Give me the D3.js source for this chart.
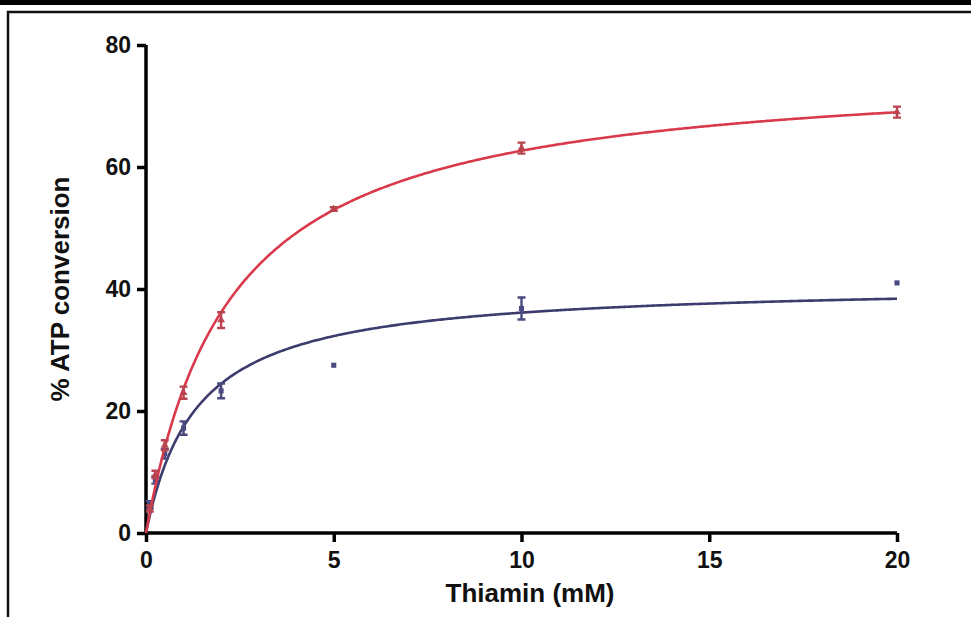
<!DOCTYPE html>
<html>
<head>
<meta charset="utf-8">
<script src="https://cdn.jsdelivr.net/npm/d3@7"></script>
<style>
  body { margin: 0; background: #fff; }
  svg text { font-family: "Liberation Sans", Arial, sans-serif; font-weight: bold; fill: #111; }
</style>
</head>
<body>
<svg width="971" height="617"></svg>
<script>
// thiamin concentration (mM)
var conc = [0, 0.1, 0.25, 0.5, 1, 2, 5, 10, 20];
// red series: mean and SEM (% ATP conversion)
var redMean = [0, 4.0, 9.6, 14.4, 23.0, 34.9, 53.1, 63.1, 69.0];
var redErr  = [0, 0.5, 0.6, 0.8, 1.0, 1.3, 0.3, 0.9, 0.9];
// blue series
var blueMean = [0, 4.6, 8.7, 13.0, 17.2, 23.3, 27.5, 36.8, 41.0];
var blueErr  = [0, 0.6, 0.6, 0.8, 1.1, 1.2, 0, 1.8, 0];
// fitted hyperbola parameters [Vmax, Km]
var redFit = [76.7, 2.24];
var blueFit = [41.0, 1.35];
var xTicks = [0, 5, 10, 15, 20];
var yTicks = [0, 20, 40, 60, 80];

var svg = d3.select("svg");

// page frame
svg.append("rect").attr("x", 0).attr("y", 0).attr("width", 971).attr("height", 5).attr("fill", "#000");
svg.append("path").attr("d", "M8,617 V12 H971").attr("fill", "none").attr("stroke", "#111").attr("stroke-width", 2.5);

var x = d3.scaleLinear().domain([0, 20]).range([146, 897]);
var y = d3.scaleLinear().domain([0, 80]).range([533, 45]);

var xAxis = svg.append("g")
    .attr("transform", "translate(0,533)")
    .call(d3.axisBottom(x).tickValues(xTicks).tickSize(9).tickPadding(10));
var yAxis = svg.append("g")
    .attr("transform", "translate(146,0)")
    .call(d3.axisLeft(y).tickValues(yTicks).tickSize(9).tickPadding(6));

[xAxis, yAxis].forEach(function(a){
  a.attr("font-size", 23).attr("font-family", "Liberation Sans, Arial, sans-serif").attr("font-weight", "bold");
  a.select(".domain").attr("stroke", "#000").attr("stroke-width", 3.5);
  a.selectAll(".tick line").attr("stroke", "#000").attr("stroke-width", 3.5);
  a.selectAll(".tick text").style("font-size", "23px").attr("fill", "#111");
});
// plain domain lines without outer ticks
xAxis.select(".domain").attr("d", "M146,0H897");
yAxis.select(".domain").attr("d", "M0,533V45");

svg.append("text").attr("x", 530).attr("y", 602).attr("text-anchor", "middle")
  .style("font-size", "26px").text("Thiamin (mM)");
svg.append("text").attr("transform", "translate(69,289) rotate(-90)").attr("text-anchor", "middle")
  .style("font-size", "26px").text("% ATP conversion");

function drawSeries(mean, err, fit, lineColor, markColor, shape) {
  var xs = d3.range(0, 20.001, 0.05);
  var line = d3.line()
      .x(function(d){ return x(d); })
      .y(function(d){ return y(fit[0] * d / (fit[1] + d)); });
  svg.append("path").datum(xs).attr("d", line)
    .attr("fill", "none").attr("stroke", lineColor).attr("stroke-width", 2.6);

  var g = svg.append("g");
  conc.forEach(function(c, i){
    if (i === 0) return;
    var cx = x(c), cy = y(mean[i]);
    if (err[i] > 0) {
      var t = y(mean[i] + err[i]), b = y(mean[i] - err[i]);
      g.append("path")
        .attr("d", "M" + cx + "," + t + "V" + b + "M" + (cx - 4) + "," + t + "H" + (cx + 4) + "M" + (cx - 4) + "," + b + "H" + (cx + 4))
        .attr("stroke", markColor).attr("stroke-width", 2.4).attr("fill", "none");
    }
    g.append("path")
      .attr("transform", "translate(" + cx + "," + cy + ")")
      .attr("d", d3.symbol().type(shape).size(26)())
      .attr("fill", markColor);
  });
}

drawSeries(blueMean, blueErr, blueFit, "#3c3c6e", "#4a4a80", d3.symbolSquare);
drawSeries(redMean, redErr, redFit, "#d83a4b", "#b94450", d3.symbolTriangle);
</script>
</body>
</html>
